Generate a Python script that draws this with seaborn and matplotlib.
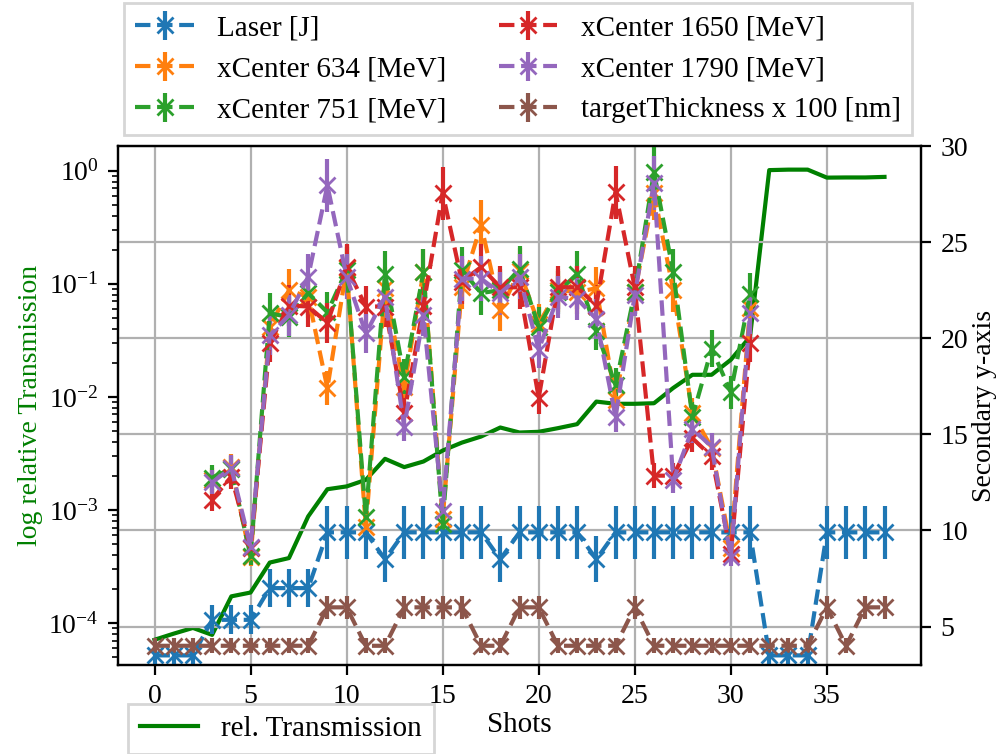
import numpy as np
import matplotlib
matplotlib.use("Agg")
import matplotlib.pyplot as plt
import seaborn as sns

# ---- data -------------------------------------------------------------
shots = np.arange(39)

rel_transmission = [
    7.15e-5, 8.1e-5, 9.1e-5, 7.9e-5, 1.73e-4, 1.87e-4, 3.44e-4, 3.77e-4,
    8.8e-4, 1.53e-3, 1.62e-3, 1.85e-3, 2.84e-3, 2.4e-3, 2.69e-3, 3.36e-3,
    3.95e-3, 4.47e-3, 5.37e-3, 4.85e-3, 4.92e-3, 5.3e-3, 5.75e-3, 9.1e-3,
    8.7e-3, 8.7e-3, 8.8e-3, 1.2e-2, 1.57e-2, 1.57e-2, 2.13e-2, 3.4e-2,
    1.01, 1.02, 1.02, 0.867, 0.87, 0.87, 0.88,
]

laser = [
    3.5, 3.5, 3.5, 5.35, 5.35, 5.35, 7.0, 7.0, 7.0, 9.9, 9.9, 9.9, 8.5,
    9.9, 9.9, 9.9, 9.9, 9.9, 8.5, 9.9, 9.9, 9.9, 9.9, 8.5, 9.9, 9.9, 9.9,
    9.9, 9.9, 9.9, 9.9, 9.9, 3.5, 3.5, 3.5, 9.9, 9.9, 9.9, 9.9,
]

nan = np.nan
xcenter_634 = [
    nan, nan, nan, 12.6, 13.3, 8.6, 20.6, 22.5, 22.15, 17.4, 23.65, 10.2,
    22.6, 17.45, 23.45, 10.6, 22.65, 25.9, 21.45, 23.5, 20.75, 22.5, 22.4,
    22.6, 16.8, 22.4, 27.55, 22.5, 16.1, 14.3, 9.1, 21.55,
    nan, nan, nan, nan, nan, nan, nan,
]
xcenter_751 = [
    nan, nan, nan, 12.75, 13.2, 8.65, 21.3, 21.1, 22.35, 21.35, 23.55, 10.7,
    23.35, 18.0, 23.45, 10.35, 23.55, 22.35, 22.5, 23.6, 20.6, 22.4, 23.35,
    20.4, 17.55, 22.4, 28.65, 23.45, 15.9, 19.45, 17.2, 22.3,
    nan, nan, nan, nan, nan, nan, nan,
]
xcenter_1650 = [
    nan, nan, nan, 11.6, 12.8, 9.1, 19.75, 21.7, 21.65, 20.8, 23.7, 21.65,
    21.65, 16.1, 21.7, 27.55, 22.95, 23.7, 22.65, 22.65, 16.9, 22.65, 22.65,
    21.7, 27.6, 22.65, 12.85, 12.85, 14.8, 13.85, 8.8, 19.75,
    nan, nan, nan, nan, nan, nan, nan,
]
xcenter_1790 = [
    nan, nan, nan, 12.5, 13.25, 9.15, 20.15, 21.2, 23.2, 27.95, 23.2, 20.25,
    22.15, 15.4, 21.2, 11.0, 23.1, 23.1, 22.35, 23.2, 19.4, 22.15, 22.05,
    21.0, 15.9, 22.25, 28.1, 12.6, 15.3, 14.35, 8.6, 21.3,
    nan, nan, nan, nan, nan, nan, nan,
]
target_thickness = [
    4, 4, 4, 4, 4, 4, 4, 4, 4, 6, 6, 4, 4, 6, 6, 6, 6, 4, 4, 6, 6, 4, 4,
    4, 4, 6, 4, 4, 4, 4, 4, 4, 4, 4, 4, 6, 4, 6, 6,
]

# relative measurement uncertainties
laser_rel_err = 0.14
xcenter_rel_err = 0.05
thickness_rel_err = 0.10

series = [
    ("Laser [J]", laser, laser_rel_err),
    ("xCenter 634 [MeV]", xcenter_634, xcenter_rel_err),
    ("xCenter 751 [MeV]", xcenter_751, xcenter_rel_err),
    ("xCenter 1650 [MeV]", xcenter_1650, xcenter_rel_err),
    ("xCenter 1790 [MeV]", xcenter_1790, xcenter_rel_err),
    ("targetThickness x 100 [nm]", target_thickness, thickness_rel_err),
]

# ---- style ------------------------------------------------------------
plt.rcParams["font.family"] = ["Liberation Serif", "DejaVu Serif"]
plt.rcParams["mathtext.fontset"] = "custom"
plt.rcParams["mathtext.rm"] = "Liberation Serif"
plt.rcParams["mathtext.it"] = "Liberation Serif:italic"
plt.rcParams["font.size"] = 10.5
plt.rcParams["xtick.labelsize"] = 10
plt.rcParams["ytick.labelsize"] = 10

palette = sns.color_palette("tab10")

fig = plt.figure(figsize=(5.005, 3.77), dpi=200)
ax1 = fig.add_axes([118 / 1001, 89 / 754, 803 / 1001, 519 / 754])
ax2 = ax1.twinx()

# transmission on the logarithmic left axis
sns.lineplot(x=shots, y=rel_transmission, ax=ax1, color="green",
             linewidth=1.5, label="rel. Transmission")
ax1.set_yscale("log")
ax1.set_ylim(4.28e-5, 1.65)
ax1.set_xlim(-1.9, 39.9)
ax1.set_xticks(np.arange(0, 36, 5))
ax1.set_ylabel("log relative Transmission", color="green", fontsize=10,
               labelpad=2)
ax1.set_xlabel("Shots", labelpad=1)
ax1.grid(axis="x", color="#b0b0b0", linewidth=0.8)

# measured quantities with error bars on the right axis
for (label, values, rel_err), color in zip(series, palette):
    vals = np.asarray(values, dtype=float)
    ax2.errorbar(shots, vals, yerr=vals * rel_err, fmt="--x", color=color,
                 markersize=6, linewidth=1.5, elinewidth=1.5, label=label)
ax2.set_ylim(3, 30)
ax2.set_yticks([5, 10, 15, 20, 25, 30])
ax2.set_ylabel("Secondary y-axis", fontsize=10, labelpad=1.5)
ax2.grid(axis="y", color="#b0b0b0", linewidth=0.8)

leg1 = ax2.legend(loc="lower center", ncol=2,
                  bbox_to_anchor=(518 / 1001, 1 - 135 / 754),
                  bbox_transform=fig.transFigure, borderaxespad=0,
                  fancybox=False, edgecolor="0.8", columnspacing=1.8)
leg2 = ax1.legend(loc="upper left",
                  bbox_to_anchor=(128 / 1001, 1 - 704 / 754),
                  bbox_transform=fig.transFigure, borderaxespad=0,
                  fancybox=False, edgecolor="0.8")

fig.savefig("out.png", dpi=200)
